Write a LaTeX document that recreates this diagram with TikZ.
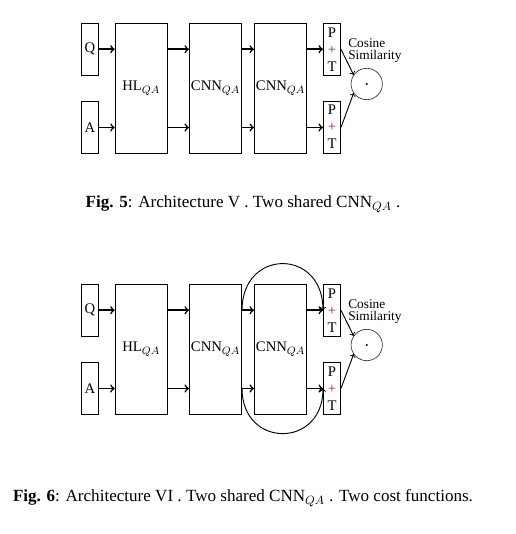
\documentclass[tikz,border=0pt]{standalone}
\usepackage{fontspec}
\setmainfont{Liberation Serif}
\usepackage{xcolor}
\usepackage{tikz}
\definecolor{PTPlus}{HTML}{8B1A8B}
\definecolor{SimLine}{HTML}{333333}

\begin{document}
\begin{tikzpicture}[x=0.75pt,y=-0.75pt,
  inbox/.style={draw,line width=0.6pt,inner sep=0pt,minimum width=12.5pt,minimum height=38.8pt,font=\fontsize{11}{12}\selectfont},
  layer/.style={draw,line width=0.6pt,inner sep=0pt,minimum width=39.2pt,minimum height=97.5pt,font=\fontsize{11}{12}\selectfont},
  ptbox/.style={draw,line width=0.6pt,inner sep=0pt,minimum width=13pt,minimum height=39pt,align=center,font=\fontsize{11}{12.75}\selectfont},
  simnode/.style={draw=SimLine,circle,line width=0.5pt,inner sep=0pt,minimum size=23.5pt},
  flow/.style={->,line width=1.2pt},
  link/.style={->,line width=0.7pt},
  caption/.style={font=\fontsize{12.8}{14}\selectfont}]
\path[use as bounding box] (0,0) rectangle (516,534);
% Fig. 5
\node[inbox] (q1) at (90,49.2) {Q};
\node[inbox] (a1) at (90,127.5) {A};
\node[layer] (hl1) at (141.2,88.3) {HL$_{QA}$};
\node[layer] (cnna1) at (215.5,88.3) {CNN$_{QA}$};
\node[layer] (cnnb1) at (280.5,88.3) {CNN$_{QA}$};
\node[ptbox] (pq1) at (332,49.5) {P\\{\color{PTPlus}+}\\T};
\node[ptbox] (pa1) at (332,127.2) {P\\{\color{PTPlus}+}\\T};
\node[simnode] (sim1) at (366.7,84) {};
\fill (sim1.center) circle (0.9pt);
\node[anchor=west,align=left,inner sep=0pt,font=\fontsize{10}{9}\selectfont] (simlbl1) at (348,51) {Cosine\\Similarity};
\draw[flow] (q1.east) -- (q1.east -| hl1.west);
\draw[flow] (a1.east) -- (a1.east -| hl1.west);
\draw[flow] (hl1.east |- q1.east) -- (cnna1.west |- q1.east);
\draw[flow] (hl1.east |- a1.east) -- (cnna1.west |- a1.east);
\draw[flow] (cnna1.east |- q1.east) -- (cnnb1.west |- q1.east);
\draw[flow] (cnna1.east |- a1.east) -- (cnnb1.west |- a1.east);
\draw[flow] (cnnb1.east |- q1.east) -- (pq1.west |- q1.east);
\draw[flow] (cnnb1.east |- a1.east) -- (pa1.west |- a1.east);
\draw[link] (pq1.east) -- (sim1.145);
\draw[link] (pa1.east) -- (sim1.215);
\node[caption] (cap1) at (243,204) {\textbf{Fig. 5}: Architecture V . Two shared CNN$_{QA}$ .};
% Fig. 6
\node[inbox] (q2) at (90,310.2) {Q};
\node[inbox] (a2) at (90,388.5) {A};
\node[layer] (hl2) at (141.2,349.3) {HL$_{QA}$};
\node[layer] (cnna2) at (215.5,349.3) {CNN$_{QA}$};
\node[layer] (cnnb2) at (280.5,349.3) {CNN$_{QA}$};
\node[ptbox] (pq2) at (332,310.5) {P\\{\color{PTPlus}+}\\T};
\node[ptbox] (pa2) at (332,388.2) {P\\{\color{PTPlus}+}\\T};
\node[simnode] (sim2) at (366.7,345) {};
\fill (sim2.center) circle (0.9pt);
\node[anchor=west,align=left,inner sep=0pt,font=\fontsize{10}{9}\selectfont] (simlbl2) at (348,312) {Cosine\\Similarity};
\draw[flow] (q2.east) -- (q2.east -| hl2.west);
\draw[flow] (a2.east) -- (a2.east -| hl2.west);
\draw[flow] (hl2.east |- q2.east) -- (cnna2.west |- q2.east);
\draw[flow] (hl2.east |- a2.east) -- (cnna2.west |- a2.east);
\draw[flow] (cnna2.east |- q2.east) -- (cnnb2.west |- q2.east);
\draw[flow] (cnna2.east |- a2.east) -- (cnnb2.west |- a2.east);
\draw[flow] (cnnb2.east |- q2.east) -- (pq2.west |- q2.east);
\draw[flow] (cnnb2.east |- a2.east) -- (pa2.west |- a2.east);
\draw[link] (cnna2.east |- q2.east) .. controls +(0,-62) and +(0,-62) .. (pq2.west |- q2.east);
\draw[link] (cnna2.east |- a2.east) .. controls +(0,60) and +(0,60) .. (pa2.west |- a2.east);
\draw[link] (pq2.east) -- (sim2.145);
\draw[link] (pa2.east) -- (sim2.215);
\node[caption] (cap2) at (243,498) {\textbf{Fig. 6}: Architecture VI . Two shared CNN$_{QA}$ . Two cost functions.};
\end{tikzpicture}
\end{document}
